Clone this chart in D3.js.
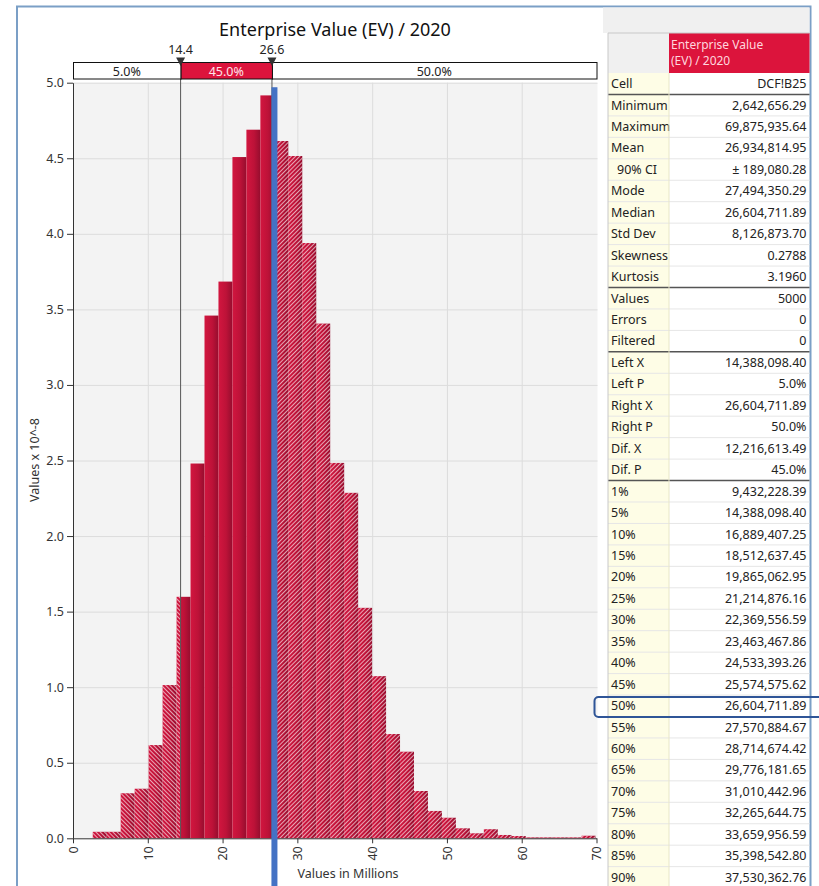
<!DOCTYPE html>
<html>
<head>
<meta charset="utf-8">
<script src="https://cdn.jsdelivr.net/npm/d3@7"></script>
<style>
  body { margin: 0; background: #fff; }
  svg { display: block; font-family: 'Noto Sans', 'Open Sans', sans-serif; }
  .grid line { stroke: #dcdcdc; }
  .grid path { display: none; }
  .axis path, .axis line { stroke: #333; }
  .axis text { fill: #333; font-size: 12.5px; font-family: 'Noto Sans', sans-serif; }
</style>
</head>
<body>
<div id="container"></div>
<script>
// histogram, values in millions, density x 10^-8
const binStart = 2.6427;
const binEnd = 69.8759;
const binValues = [0.043, 0.043, 0.298, 0.328, 0.617, 1.014, 1.598, 2.48, 3.459, 3.684,
                   4.508, 4.689, 4.916, 4.614, 4.515, 3.939, 3.406, 2.484, 2.286, 1.525,
                   1.073, 0.690, 0.573, 0.313, 0.181, 0.136, 0.066, 0.033, 0.060, 0.022,
                   0.015, 0.006, 0.006, 0.006, 0.006, 0.017];
const leftX = 14.388;
const rightX = 26.605;
const meanX = 26.935;
const markerLabels = ['14.4', '26.6'];
const percentLabels = ['5.0%', '45.0%', '50.0%'];
const xTicks = [0, 10, 20, 30, 40, 50, 60, 70];
const yTicks = [0, 0.5, 1, 1.5, 2, 2.5, 3, 3.5, 4, 4.5, 5];

const chartTitle = 'Enterprise Value (EV) / 2020';
const tableHeader = ['Enterprise Value', '(EV) / 2020'];
const statLabels = ['Cell', 'Minimum', 'Maximum', 'Mean', '90% CI', 'Mode', 'Median', 'Std Dev',
                    'Skewness', 'Kurtosis', 'Values', 'Errors', 'Filtered', 'Left X', 'Left P',
                    'Right X', 'Right P', 'Dif. X', 'Dif. P', '1%', '5%', '10%', '15%', '20%',
                    '25%', '30%', '35%', '40%', '45%', '50%', '55%', '60%', '65%', '70%', '75%',
                    '80%', '85%', '90%'];
const statValues = ['DCF!B25', '2,642,656.29', '69,875,935.64', '26,934,814.95', '± 189,080.28',
                    '27,494,350.29', '26,604,711.89', '8,126,873.70', '0.2788', '3.1960', '5000',
                    '0', '0', '14,388,098.40', '5.0%', '26,604,711.89', '50.0%', '12,216,613.49',
                    '45.0%', '9,432,228.39', '14,388,098.40', '16,889,407.25', '18,512,637.45',
                    '19,865,062.95', '21,214,876.16', '22,369,556.59', '23,463,467.86',
                    '24,533,393.26', '25,574,575.62', '26,604,711.89', '27,570,884.67',
                    '28,714,674.42', '29,776,181.65', '31,010,442.96', '32,265,644.75',
                    '33,659,956.59', '35,398,542.80', '37,530,362.76'];
const groupEnds = ['Cell', 'Kurtosis', 'Filtered', 'Dif. P'];
const highlightRow = '50%';

const width = 819;
const height = 886;

const svg = d3.select('#container')
              .append('svg')
              .attr('width', width)
              .attr('height', height);

const defs = svg.append('defs');

// bar shading, lighter on the left side of each bar
const grad = defs.append('linearGradient')
                 .attr('id', 'barGrad')
                 .attr('x1', 0).attr('x2', 1).attr('y1', 0).attr('y2', 0);
grad.append('stop').attr('offset', 0).attr('stop-color', '#d2163f');
grad.append('stop').attr('offset', 0.55).attr('stop-color', '#bd1238');
grad.append('stop').attr('offset', 1).attr('stop-color', '#960d2e');

function addHatch(id, angle) {
  const p = defs.append('pattern')
                .attr('id', id)
                .attr('patternUnits', 'userSpaceOnUse')
                .attr('width', 3)
                .attr('height', 3)
                .attr('patternTransform', `rotate(${angle})`);
  p.append('line')
   .attr('x1', 1.5).attr('x2', 1.5).attr('y1', 0).attr('y2', 3)
   .attr('stroke', '#fff')
   .attr('stroke-opacity', 0.7)
   .attr('stroke-width', 0.9);
}
addHatch('hatchBack', -45);
addHatch('hatchFwd', 45);

const x = d3.scaleLinear()
            .domain([0, 70])
            .range([73, 596.5]);
const y = d3.scaleLinear()
            .domain([0, 5])
            .range([838.3, 82.7]);

// frame
svg.append('path')
   .attr('d', `M17,886V6.5H810.5V886`)
   .attr('fill', 'none')
   .attr('stroke', '#7b9fc6')
   .attr('stroke-width', 2);

// plot background
svg.append('rect')
   .attr('x', x(0))
   .attr('y', y(5))
   .attr('width', x(70) - x(0) + 1)
   .attr('height', y(0) - y(5))
   .attr('fill', '#f3f3f3');

// grid
svg.append('g')
   .attr('class', 'grid')
   .attr('transform', `translate(0, ${y(0)})`)
   .call(d3.axisBottom(x)
           .tickValues(xTicks.slice(1, -1))
           .tickSize(-(y(0) - y(5)))
           .tickFormat(() => ''));
svg.append('g')
   .attr('class', 'grid')
   .attr('transform', `translate(${x(0)}, 0)`)
   .call(d3.axisLeft(y)
           .tickValues(yTicks.slice(1))
           .tickSize(-(x(70) - x(0) + 1))
           .tickFormat(() => ''));

// bars
const binWidth = (binEnd - binStart) / binValues.length;
const bins = binValues.map((v, i) => ({ x0: binStart + i * binWidth, x1: binStart + (i + 1) * binWidth, v: v }));

function addClip(id, from, to) {
  defs.append('clipPath')
      .attr('id', id)
      .append('rect')
      .attr('x', from)
      .attr('y', 0)
      .attr('width', to - from)
      .attr('height', height);
}
addClip('clipLeft', 0, x(leftX));
addClip('clipMid', x(leftX), x(rightX));
addClip('clipRight', x(rightX), width);

function drawBars(clip, hatch) {
  const g = svg.append('g').attr('clip-path', `url(#${clip})`);
  g.selectAll('rect.bar')
   .data(bins)
   .enter()
   .append('rect')
   .attr('class', 'bar')
   .attr('x', (d) => x(d.x0))
   .attr('y', (d) => y(d.v))
   .attr('width', (d) => x(d.x1) - x(d.x0))
   .attr('height', (d) => y(0) - y(d.v))
   .attr('fill', 'url(#barGrad)');
  if (hatch) {
    g.selectAll('rect.hatch')
     .data(bins)
     .enter()
     .append('rect')
     .attr('class', 'hatch')
     .attr('x', (d) => x(d.x0))
     .attr('y', (d) => y(d.v))
     .attr('width', (d) => x(d.x1) - x(d.x0))
     .attr('height', (d) => y(0) - y(d.v))
     .attr('fill', `url(#${hatch})`);
  }
}
drawBars('clipLeft', 'hatchBack');
drawBars('clipMid', null);
drawBars('clipRight', 'hatchFwd');

// axes
svg.append('g')
   .attr('class', 'axis')
   .attr('transform', `translate(${x(0)}, 0)`)
   .call(d3.axisLeft(y)
           .tickValues(yTicks)
           .tickSize(6)
           .tickSizeOuter(0)
           .tickPadding(3)
           .tickFormat(d3.format('.1f')));

const xAxis = svg.append('g')
                 .attr('class', 'axis')
                 .attr('transform', `translate(0, ${y(0)})`)
                 .call(d3.axisBottom(x)
                         .tickValues(xTicks)
                         .tickSize(5)
                         .tickSizeOuter(0));
xAxis.selectAll('text')
     .attr('transform', 'rotate(-90)')
     .attr('text-anchor', 'end')
     .attr('x', -8)
     .attr('y', 0)
     .attr('dy', '0.35em');

svg.append('text')
   .attr('x', 348)
   .attr('y', 878)
   .attr('text-anchor', 'middle')
   .attr('font-size', 12.5)
   .attr('fill', '#333')
   .text('Values in Millions');

svg.append('text')
   .attr('transform', 'translate(39, 460) rotate(-90)')
   .attr('text-anchor', 'middle')
   .attr('font-size', 12.5)
   .attr('fill', '#333')
   .text('Values x 10^-8');

// delimiter lines
svg.selectAll('line.delim')
   .data([leftX, rightX])
   .enter()
   .append('line')
   .attr('class', 'delim')
   .attr('x1', (d) => x(d)).attr('x2', (d) => x(d))
   .attr('y1', 62.7).attr('y2', y(0))
   .attr('stroke', '#555')
   .attr('stroke-width', 1);

// mean line
svg.append('rect')
   .attr('x', x(meanX) - 3)
   .attr('y', y(4.97))
   .attr('width', 6)
   .attr('height', height - y(4.97))
   .attr('fill', '#4472c4');

// percent bar
const pSegs = [[0, leftX], [leftX, rightX], [rightX, 70]];
const pBar = svg.append('g');
pBar.selectAll('rect')
    .data(pSegs)
    .enter()
    .append('rect')
    .attr('x', (d) => x(d[0]) + 0.5)
    .attr('y', 62.5)
    .attr('width', (d) => x(d[1]) - x(d[0]))
    .attr('height', 16.5)
    .attr('fill', (d, i) => i === 1 ? '#dc143c' : '#fff')
    .attr('stroke', '#111')
    .attr('stroke-width', 1);
pBar.selectAll('text')
    .data(pSegs)
    .enter()
    .append('text')
    .attr('x', (d) => (x(d[0]) + x(d[1])) / 2)
    .attr('y', 75.5)
    .attr('text-anchor', 'middle')
    .attr('font-size', 12.5)
    .attr('fill', (d, i) => i === 1 ? '#ffe4ea' : '#222')
    .text((d, i) => percentLabels[i]);

// markers
const markers = svg.selectAll('g.marker')
                   .data([leftX, rightX])
                   .enter()
                   .append('g')
                   .attr('class', 'marker')
                   .attr('transform', (d) => `translate(${x(d)}, 0)`);
markers.append('path')
       .attr('d', 'M-4.5,57.5H4.5L0,66Z')
       .attr('fill', '#333');
markers.append('text')
       .attr('y', 54)
       .attr('text-anchor', 'middle')
       .attr('font-size', 12.5)
       .attr('fill', '#222')
       .text((d, i) => markerLabels[i]);

// title
svg.append('text')
   .attr('x', 335)
   .attr('y', 36)
   .attr('text-anchor', 'middle')
   .attr('font-size', 18)
   .attr('fill', '#111')
   .text(chartTitle);

// stats table
const tLeft = 608;
const tMid = 669;
const tRight = 809.5;
const headTop = 33;
const rowTop = 73;
const rowH = 21.45;

svg.append('rect')
   .attr('x', 603).attr('y', 7.5)
   .attr('width', tRight - 603).attr('height', headTop - 7.5)
   .attr('fill', '#f0f0f0');
svg.append('rect')
   .attr('x', tLeft).attr('y', headTop)
   .attr('width', tMid - tLeft).attr('height', rowTop - headTop)
   .attr('fill', '#f0f0f0');
svg.append('rect')
   .attr('x', tMid).attr('y', headTop)
   .attr('width', tRight - tMid).attr('height', rowTop - headTop)
   .attr('fill', '#dc143c');
svg.append('text')
   .attr('x', tMid + 2)
   .attr('y', headTop + 16)
   .attr('font-size', 12)
   .attr('fill', '#ffd6de')
   .selectAll('tspan')
   .data(tableHeader)
   .enter()
   .append('tspan')
   .attr('x', tMid + 2)
   .attr('dy', (d, i) => i ? 16 : 0)
   .text((d) => d);

svg.append('rect')
   .attr('x', tLeft).attr('y', rowTop)
   .attr('width', tMid - tLeft).attr('height', height - rowTop)
   .attr('fill', '#fefde6');

const rows = svg.selectAll('g.row')
                .data(statLabels)
                .enter()
                .append('g')
                .attr('class', 'row')
                .attr('transform', (d, i) => `translate(0, ${rowTop + i * rowH})`);
rows.append('line')
    .attr('x1', tLeft).attr('x2', tRight)
    .attr('y1', rowH).attr('y2', rowH)
    .attr('stroke', (d) => groupEnds.includes(d) ? '#555' : '#e6e6e6')
    .attr('stroke-width', (d) => groupEnds.includes(d) ? 1.5 : 1);
rows.append('text')
    .attr('x', (d) => d === '90% CI' ? tLeft + 9 : tLeft + 3)
    .attr('y', rowH / 2)
    .attr('dy', '0.35em')
    .attr('font-size', 12.5)
    .attr('fill', '#222')
    .text((d) => d);
rows.append('text')
    .attr('x', tRight - 3)
    .attr('y', rowH / 2)
    .attr('dy', '0.35em')
    .attr('text-anchor', 'end')
    .attr('font-size', 12.5)
    .attr('fill', '#222')
    .text((d, i) => statValues[i]);

svg.append('line')
   .attr('x1', tLeft).attr('x2', tLeft)
   .attr('y1', headTop).attr('y2', height)
   .attr('stroke', '#c8c8c8');
svg.append('line')
   .attr('x1', tMid).attr('x2', tMid)
   .attr('y1', rowTop).attr('y2', height)
   .attr('stroke', '#e8e6c8');
svg.append('line')
   .attr('x1', tLeft).attr('x2', tRight)
   .attr('y1', headTop).attr('y2', headTop)
   .attr('stroke', '#c8c8c8');

// highlighted row
const hi = statLabels.indexOf(highlightRow);
svg.append('rect')
   .attr('x', 594.5)
   .attr('y', rowTop + hi * rowH + 2)
   .attr('width', 240)
   .attr('height', rowH - 1.5)
   .attr('rx', 4)
   .attr('fill', 'none')
   .attr('stroke', '#2f5597')
   .attr('stroke-width', 2);
</script>
</body>
</html>
